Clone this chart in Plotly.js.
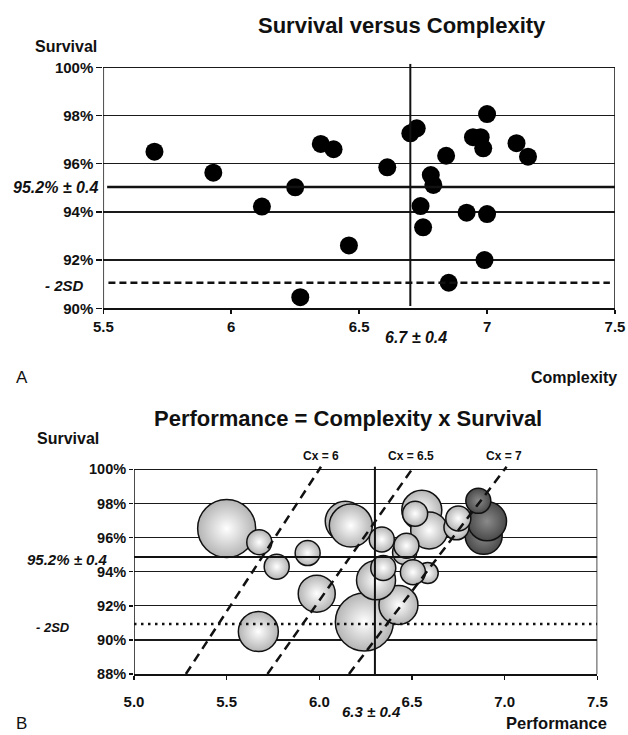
<!DOCTYPE html>
<html>
<head>
<meta charset="utf-8">
<script src="https://cdn.plot.ly/plotly-3.0.1.min.js"></script>
<style>html,body{margin:0;padding:0;background:#fff;}#chart{width:628px;height:735px;}</style>
</head>
<body>
<div id="chart"></div>
<script>
// ---- Panel A data: complexity vs survival (one point per program) ----
const complexity = [5.70, 5.93, 6.12, 6.25, 6.27, 6.35, 6.40, 6.46, 6.61, 6.70, 6.725, 6.74, 6.75,
                    6.78, 6.79, 6.84, 6.85, 6.92, 6.945, 6.975, 6.985, 7.00, 7.00, 6.99, 7.115, 7.16];
const survival   = [96.50, 95.63, 94.22, 95.02, 90.46, 96.82, 96.60, 92.61, 95.85, 97.26, 97.47, 94.24, 93.36,
                    95.53, 95.12, 96.33, 91.06, 93.97, 97.10, 97.10, 96.64, 98.06, 93.91, 92.00, 96.85, 96.29];

// ---- Panel B data: performance vs survival bubbles (drawn back to front) ----
const bubblePerformance = [5.50, 5.676, 5.77, 5.937, 5.671, 5.986, 6.14, 6.17, 6.243, 6.427, 6.306, 6.345, 6.337,
                           6.553, 6.593, 6.517, 6.46, 6.47, 6.585, 6.505, 6.887, 6.905, 6.858, 6.74, 6.75];
const bubbleSurvival    = [96.53, 95.73, 94.29, 95.09, 90.49, 92.71, 96.95, 96.70, 91.05, 92.05, 93.49, 94.22, 95.89,
                           97.60, 96.42, 97.40, 95.12, 95.52, 93.92, 93.97, 96.10, 96.95, 98.15, 96.60, 97.12];
const bubbleVolume      = [58, 25, 25, 25, 40, 37, 40, 43, 58, 39, 39, 25, 25,
                           40, 37, 25, 24, 25, 21, 25, 37, 39, 25, 25, 25];
const bubbleGroup       = ['l','l','l','l','l','l','l','l','l','l','l','l','l',
                           'l','l','l','l','l','l','l','d','d','d','l','l'];

// reference values
const meanComplexityA = 6.7, meanSurvivalA = 95.03, minus2SDA = 91.06;
const meanPerfB = 6.3, meanSurvivalB = 94.86, minus2SDB = 90.93;
const cxLevels = [6, 6.5, 7];
const cxLabels = ['Cx = 6', 'Cx = 6.5', 'Cx = 7'];
const yTicksA = [90, 92, 94, 96, 98, 100];
const yTicksB = [88, 90, 92, 94, 96, 98, 100];

const W = 628, H = 735;
const fx = p => p / W, fy = p => 1 - p / H;
const FONT = 'Liberation Sans, Arial, sans-serif';
const INK = '#111';

const traces = [
  { x: complexity, y: survival, xaxis: 'x', yaxis: 'y', type: 'scatter', mode: 'markers',
    marker: { size: 18, color: '#000' }, hoverinfo: 'skip' },
  { x: bubblePerformance, y: bubbleSurvival, xaxis: 'x2', yaxis: 'y2', type: 'scatter', mode: 'markers',
    marker: { size: bubbleVolume, sizemode: 'diameter',
      color: bubbleGroup.map(g => g === 'd' ? '#4a4a4a' : '#b4b4b4'),
      gradient: { type: 'radial', color: bubbleGroup.map(g => g === 'd' ? '#8a8a8a' : '#ffffff') },
      line: { color: '#111', width: 1.5 }, opacity: 1 }, hoverinfo: 'skip' }
];

const tickFont = { family: FONT, size: 15, color: INK, weight: 'bold' };
const line = (xref, yref, x0, y0, x1, y1, w, dash) => ({ type: 'line', xref, yref, x0, y0, x1, y1,
  line: { color: '#111', width: w, dash: dash || 'solid' }, layer: 'above' });

const shapes = [
  // panel A
  line('x', 'y', 5.5, 90, 5.5, 100, 1.5),
  line('x', 'y', 7.5, 90, 7.5, 100, 1.5),
  line('x', 'y', 5.515, meanSurvivalA, 7.5, meanSurvivalA, 2.5),
  line('x', 'y', 5.52, minus2SDA, 7.48, minus2SDA, 2.5, '7px,4px'),
  line('x', 'y', meanComplexityA, 90.1, meanComplexityA, 100.15, 2),
  // panel B
  line('x2', 'y2', 5, 88, 5, 100, 1.5),
  line('x2', 'y2', 7.5, 88, 7.5, 100, 1.5),
  line('x2', 'y2', 5, meanSurvivalB, 7.5, meanSurvivalB, 2),
  line('x2', 'y2', 5, minus2SDB, 7.5, minus2SDB, 2.5, '2.5px,4.5px'),
  line('x2', 'y2', meanPerfB, 88, meanPerfB, 100.15, 2)
];
cxLevels.forEach(c => shapes.push(line('x2', 'y2', c * 0.88, 88, c * 1.0015, 100.15, 2.5, '9px,6px')));

const ann = (text, x, y, size, xanchor, extra) => Object.assign({
  text, xref: 'paper', yref: 'paper', x: fx(x), y: fy(y), xanchor: xanchor || 'center', yanchor: 'middle',
  showarrow: false, font: { family: FONT, size, color: INK } }, extra || {});

const annotations = [
  ann('<b>Survival versus Complexity</b>', 402, 25, 22),
  ann('<b>Survival</b>', 66, 46, 16),
  ann('<b><i>95.2% ± 0.4</i></b>', 100, 187, 16, 'right'),
  ann('<b><i>- 2SD</i></b>', 64, 285, 15),
  ann('<b><i>6.7 ± 0.4</i></b>', 416, 337, 16),
  ann('A', 22, 378, 17),
  ann('<b>Complexity</b>', 574, 378, 16),
  ann('<b>Performance = Complexity x Survival</b>', 347.5, 418, 22),
  ann('<b>Survival</b>', 68, 438, 16),
  ann('<b><i>95.2% ± 0.4</i></b>', 110, 559, 15, 'right'),
  ann('<b><i>- 2SD</i></b>', 53, 627, 13),
  ann('<b><i>6.3 ± 0.4</i></b>', 371, 711, 15),
  ann('B', 21, 723, 17),
  ann('<b>Performance</b>', 556, 723, 16.5)
];
const cxLabelX = [321, 411, 504];
cxLabels.forEach((t, i) => annotations.push(ann('<b>' + t + '</b>', cxLabelX[i], 456, 12)));

const layout = {
  width: W, height: H, margin: { l: 0, r: 0, t: 0, b: 0, pad: 0 },
  paper_bgcolor: '#fff', plot_bgcolor: '#fff', showlegend: false, hovermode: false,
  xaxis: { domain: [fx(103.3), fx(615)], anchor: 'y', range: [5.5, 7.5], dtick: 0.5, tick0: 5.5,
    showgrid: false, zeroline: false, showline: true, linecolor: '#111', linewidth: 1.5,
    ticks: 'outside', ticklen: 4, tickcolor: '#111', tickwidth: 1.5, tickfont: tickFont, ticklabelstandoff: 0 },
  yaxis: { domain: [fy(308.3), fy(63.7)], anchor: 'x', range: [90, 100.15], tickvals: yTicksA,
    ticktext: yTicksA.map(v => v + '%'), showgrid: true, gridcolor: '#1a1a1a', gridwidth: 1.3,
    zeroline: false, showline: false, ticks: 'outside', ticklen: 6, tickcolor: '#111', tickwidth: 1.5,
    tickfont: tickFont },
  xaxis2: { domain: [fx(134), fx(597.3)], anchor: 'y2', range: [5, 7.5], dtick: 0.5, tick0: 5,
    tickformat: '.1f', showgrid: false, zeroline: false, showline: true, linecolor: '#111', linewidth: 1.5,
    ticks: 'outside', ticklen: 4, tickcolor: '#111', tickwidth: 1.5, tickfont: tickFont, ticklabelstandoff: 9 },
  yaxis2: { domain: [fy(674), fy(465.9)], anchor: 'x2', range: [88, 100.2], tickvals: yTicksB,
    ticktext: yTicksB.map(v => v + '%'), showgrid: true, gridcolor: '#1a1a1a', gridwidth: 1.3,
    zeroline: false, showline: false, ticks: 'outside', ticklen: 4, tickcolor: '#111', tickwidth: 1.5,
    tickfont: { family: FONT, size: 14.5, color: INK, weight: 'bold' } },
  shapes, annotations
};

Plotly.newPlot('chart', traces, layout, { staticPlot: true, displayModeBar: false });
</script>
</body>
</html>
